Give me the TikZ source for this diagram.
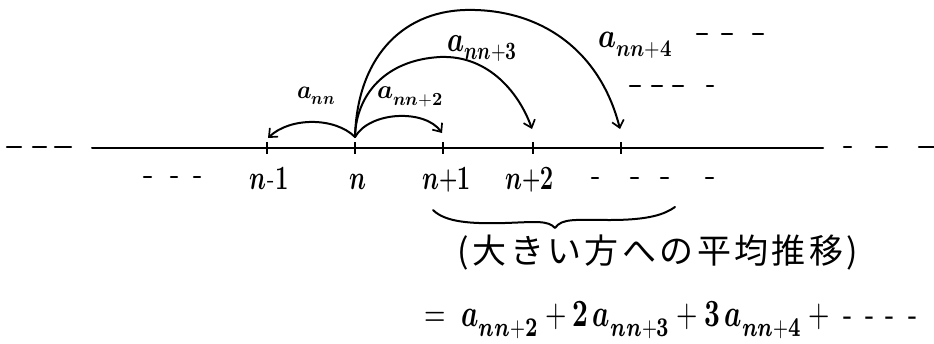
\documentclass[tikz,border=0pt]{standalone}
\usepackage{fontspec}
\usepackage{unicode-math}
\setmathfont{Latin Modern Math}
\newfontfamily\jp{Noto Sans CJK JP}
\usetikzlibrary{arrows.meta}
\newcommand\fitbox[3]{\resizebox*{#1pt}{#2pt}{#3}}
\newcommand\js{\hspace{3.4pt}}
\newcommand\sx[1]{\scalebox{0.7}[1]{#1}}
\newcommand\midplus{\kern-1pt\raisebox{1pt}{\fontsize{30}{30}\selectfont\bfseries +}\kern-1pt}
\begin{document}
\begin{tikzpicture}[x=1pt,y=-1pt,
  ink/.style={line width=2pt,line cap=round,line join=round},
  arc/.style={ink,-{Straight Barb[length=7pt,width=12pt,line width=1.7pt]}},
  tick/.style={line width=2.2pt},
  dsh/.style={ink,line width=2.4pt},
  lbl/.style={inner sep=0pt,font=\fontsize{34}{36}\selectfont}]
\useasboundingbox (0,0) rectangle (934,343);
% number line
\coordinate (L0) at (92,148);
\coordinate (R0) at (823,148);
\draw[ink] (L0) -- (R0);
\foreach \a/\b in {7/21,33/46,55/71,844/851,876/887,919/934}
  \draw[dsh] (\a,147) -- (\b,147);
% ticks
\foreach \nm/\x in {tm/267,tn/355,tp/443,tq/533,tr/621}{
  \coordinate (\nm) at (\x,148);
  \draw[tick] (\x,142) -- (\x,154);
}
% tick labels
\node[lbl,anchor=base] (lm) at (269,189) {\sx{$\symbfit{n}$\kern1pt-\kern1pt\textbf{1}}};
\node[lbl,anchor=base] (ln) at (357.5,189) {\sx{$\symbfit{n}$}};
\node[lbl,anchor=base] (lp) at (446.5,189) {\sx{$\symbfit{n}$\midplus\textbf{1}}};
\node[lbl,anchor=base] (lq) at (529.5,189) {\sx{$\symbfit{n}$\midplus\textbf{2}}};
\foreach \a/\b in {144/151,171/177,194/200}
  \draw[dsh] (\a,177) -- (\b,177);
\foreach \a/\b in {592/598,631/638,661/668,706/713}
  \draw[dsh] (\a,178) -- (\b,178);
% arcs
\coordinate (s) at (355,137);
\coordinate (em) at (268,138);
\coordinate (ep) at (442,133);
\coordinate (eq) at (532,129);
\coordinate (er) at (620,129);
\draw[arc] (s) .. controls (335,117) and (290,117) .. (em);
\draw[arc] (s) .. controls (370,111) and (425,109) .. (ep);
\draw[arc] (s) .. controls (356,95) and (385,60) .. (440,57) .. controls (490,55) and (520,95) .. (eq);
\draw[arc] (s) .. controls (357,60) and (400,12) .. (465,10) .. controls (540,8) and (600,50) .. (er);
% arc labels
\node[lbl] (a0) at (316,96) {\fitbox{38}{18}{$\symbfit{a}_{\symbfit{nn}}$}};
\node[lbl] (a2) at (410,97) {\fitbox{66}{20}{$\symbfit{a}_{\symbfit{nn}+\symbf{2}}$}};
\node[lbl] (a3) at (482,48.5) {\fitbox{70}{27}{$\symbfit{a}_{\symbfit{nn}+\symbf{3}}$}};
\node[lbl] (a4) at (635,45) {\fitbox{74}{26}{$\symbfit{a}_{\symbfit{nn}+\symbf{4}}$}};
\foreach \a/\b in {697/707,722/732,753/763}
  \draw[dsh] (\a,34) -- (\b,34);
\foreach \a/\b in {630/640,652/662,673/683,707/713}
  \draw[dsh] (\a,86) -- (\b,86);
% brace
\coordinate (bl) at (433,210);
\coordinate (bm) at (555,228);
\coordinate (br) at (675,207);
\draw[ink] (bl) .. controls (445,222) and (470,224) .. (505,223) .. controls (535,222) and (548,220) .. (bm)
  .. controls (562,218) and (575,220) .. (610,220) .. controls (650,220) and (665,214) .. (br);
% japanese text
\node[inner sep=0pt,font=\jp\fontsize{34}{36}\selectfont] (jt) at (658,252)
  {(\js 大\js き\js い\js 方\js へ\js の\js 平\js 均\js 推\js 移\js )};
% equation
\node[inner sep=0pt] (eqn) at (671,320)
  {\fitbox{493}{37}{$=\; \symbfit{a}_{\symbfit{nn}+\symbf{2}}+\symbf{2}\,\symbfit{a}_{\symbfit{nn}+\symbf{3}}+\symbf{3}\,\symbfit{a}_{\symbfit{nn}+\symbf{4}}+\;\mbox{-\hspace{0.45em}-\hspace{0.4em}-\hspace{0.5em}-}$}};
\end{tikzpicture}
\end{document}
